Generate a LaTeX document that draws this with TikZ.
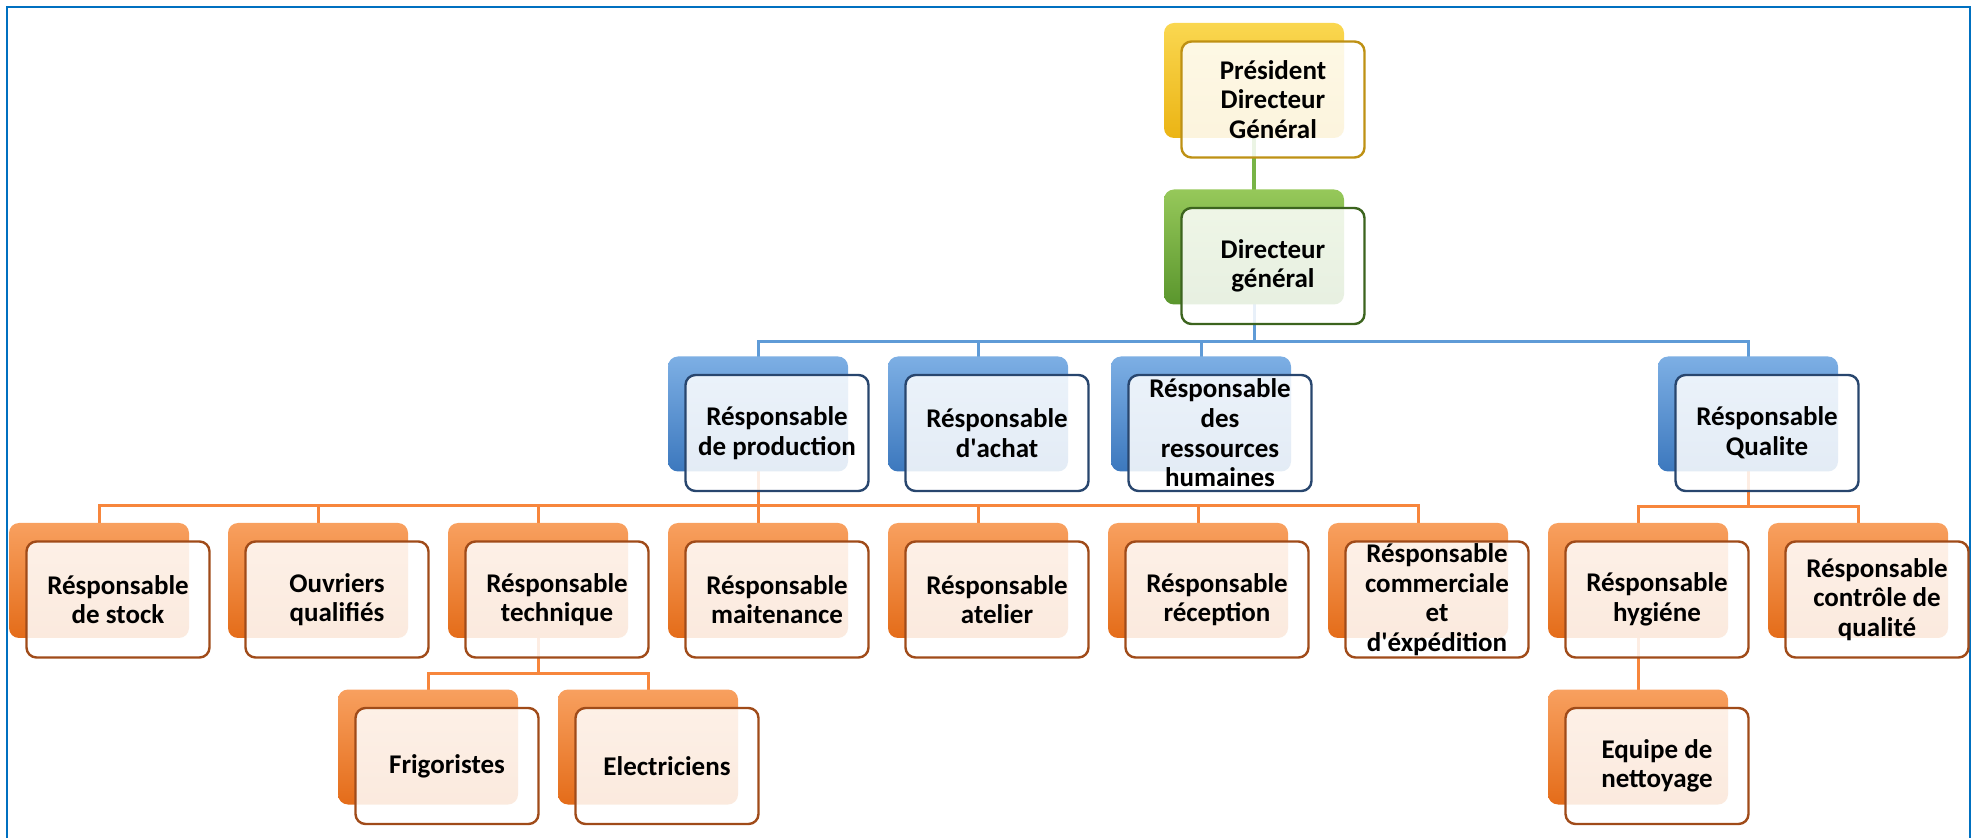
\documentclass[tikz,border=0pt]{standalone}
\usepackage{fontspec}
\setmainfont{Carlito}
\usetikzlibrary{calc}
\pgfdeclarelayer{background}
\pgfsetlayers{background,main}
\definecolor{frameblue}{RGB}{0,112,192}
\definecolor{orTop}{RGB}{248,160,95}
\definecolor{orBot}{RGB}{228,108,25}
\definecolor{orLine}{RGB}{247,134,60}
\definecolor{orDraw}{RGB}{160,75,25}
\definecolor{blTop}{RGB}{125,175,228}
\definecolor{blBot}{RGB}{60,120,190}
\definecolor{blLine}{RGB}{95,155,215}
\definecolor{blDraw}{RGB}{40,70,110}
\definecolor{grTop}{RGB}{150,200,90}
\definecolor{grBot}{RGB}{90,150,45}
\definecolor{grLine}{RGB}{120,180,70}
\definecolor{grDraw}{RGB}{60,100,30}
\definecolor{yeTop}{RGB}{250,215,80}
\definecolor{yeBot}{RGB}{235,180,20}
\definecolor{yeDraw}{RGB}{190,145,20}
\tikzset{
  backbox/.style={rounded corners=5pt, minimum width=90pt, minimum height=57.5pt, inner sep=0pt},
  orback/.style={backbox, top color=orTop, bottom color=orBot},
  blback/.style={backbox, top color=blTop, bottom color=blBot},
  grback/.style={backbox, top color=grTop, bottom color=grBot},
  yeback/.style={backbox, top color=yeTop, bottom color=yeBot},
  frontbox/.style={rounded corners=5pt, minimum width=91.5pt, minimum height=58pt,
    inner sep=0pt, fill=white, fill opacity=0.86, text opacity=1, line width=1.2pt,
    align=center, font=\bfseries\fontsize{13.5}{14.8}\selectfont},
  orfront/.style={frontbox, draw=orDraw},
  blfront/.style={frontbox, draw=blDraw},
  grfront/.style={frontbox, draw=grDraw},
  yefront/.style={frontbox, draw=yeDraw},
  conn/.style={line width=1.5pt},
  orline/.style={conn, draw=orLine},
  blline/.style={conn, draw=blLine},
  grline/.style={conn, draw=grLine, line width=1.8pt},
}
\newcommand\orgunit[5]{%
  \node[#4back] (#1B) at (#2,#3) {};
  \node[#4front] (#1) at ($(#1B)+(19,19)$) {#5};}
\newcommand\apos{\textquotesingle}
\begin{document}
\begin{tikzpicture}[x=0.5pt,y=-0.5pt]
\useasboundingbox (0,0) rectangle (1974,838);
\draw[frameblue, line width=1.4pt] (7,838) -- (7,7) -- (1970,7) -- (1970,838);
% level 0-1
\orgunit{pdg}{1254}{80.5}{ye}{Président\\Directeur\\Général}
\orgunit{dg}{1254}{247}{gr}{Directeur\\général}
% level 2
\orgunit{prod}{758}{414}{bl}{Résponsable\\de production}
\orgunit{achat}{978}{414}{bl}{Résponsable\\d\apos achat}
\orgunit{rh}{1201}{414}{bl}{Résponsable\\des\\ressources\\humaines}
\orgunit{qual}{1748}{414}{bl}{Résponsable\\Qualite}
% level 3
\orgunit{stock}{99}{580.5}{or}{Résponsable\\de stock}
\orgunit{ouvr}{318}{580.5}{or}{Ouvriers\\qualifiés}
\orgunit{tech}{538}{580.5}{or}{Résponsable\\technique}
\orgunit{maint}{758}{580.5}{or}{Résponsable\\maitenance}
\orgunit{atel}{978}{580.5}{or}{Résponsable\\atelier}
\orgunit{recep}{1198}{580.5}{or}{Résponsable\\réception}
\orgunit{comm}{1418}{580.5}{or}{Résponsable\\commerciale\\et\\d\apos éxpédition}
\orgunit{hyg}{1638}{580.5}{or}{Résponsable\\hygiéne}
\orgunit{ctrl}{1858}{580.5}{or}{Résponsable\\contrôle de\\qualité}
% level 4
\orgunit{frigo}{428}{747}{or}{Frigoristes}
\orgunit{elec}{648}{747}{or}{Electriciens}
\orgunit{equip}{1638}{747}{or}{Equipe de\\nettoyage}
% connectors
\begin{pgfonlayer}{background}
\coordinate (busB) at (1254,342);
\coordinate (busP) at (758,506);
\coordinate (busQ) at (1748,507);
\coordinate (busT) at (538,673);
\draw[grline] (pdgB.center) -- (dgB.center);
\draw[blline] (dgB.center) -- (busB);
\draw[blline] (prodB.center) |- (busB) -| (qualB.center);
\draw[blline] (achatB.center) -- (achatB.center |- busB);
\draw[blline] (rhB.center) -- (rhB.center |- busB);
\draw[orline] (prodB.center) -- (busP);
\draw[orline] (stockB.center) |- (busP) -| (commB.center);
\foreach \n in {ouvr,tech,maint,atel,recep}{
  \draw[orline] (\n B.center) -- (\n B.center |- busP);}
\draw[orline] (qualB.center) -- (busQ);
\draw[orline] (hygB.center) |- (busQ) -| (ctrlB.center);
\draw[orline] (techB.center) -- (busT);
\draw[orline] (frigoB.center) |- (busT) -| (elecB.center);
\draw[orline] (hygB.center) -- (equipB.center);
\end{pgfonlayer}
\end{tikzpicture}
\end{document}
